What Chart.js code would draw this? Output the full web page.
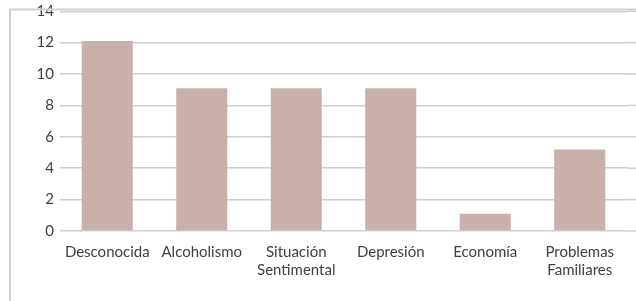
<!DOCTYPE html>
<html>
<head>
<meta charset="utf-8">
<script src="https://cdn.jsdelivr.net/npm/chart.js@4"></script>
<style>
  html, body { margin: 0; padding: 0; background: #fff; }
  #wrap { position: relative; width: 636px; height: 301px; }
</style>
</head>
<body>
<div id="wrap"><canvas id="chart" width="636" height="301"></canvas></div>
<script>
// ---------- Data ----------
const categories = ['Desconocida', 'Alcoholismo', ['Situación', 'Sentimental'], 'Depresión', 'Economía', ['Problemas', 'Familiares']];
const counts = [12.1, 9.1, 9.1, 9.1, 1.1, 5.2];
const yTicks = [0, 2, 4, 6, 8, 10, 12, 14];

const BAR = '#c9b0aa';
const GRID = '#cfcfcf';
const TEXT = '#3f3f3f';

// frame lines (left + top) and gridlines running to the page edge
const framePlugin = {
  id: 'frame',
  beforeDatasetsDraw(chart) {
    const { ctx, chartArea, scales } = chart;
    ctx.save();
    ctx.strokeStyle = GRID;
    ctx.lineWidth = 1.5;
    yTicks.forEach(v => {
      const y = scales.y.getPixelForValue(v);
      ctx.beginPath();
      ctx.moveTo(chartArea.right, y);
      ctx.lineTo(chart.width, y);
      ctx.stroke();
    });
    ctx.restore();
  },
  afterDraw(chart) {
    const { ctx } = chart;
    ctx.save();
    ctx.strokeStyle = '#d2d2d2';
    ctx.lineWidth = 2;
    ctx.beginPath();
    ctx.moveTo(10, chart.height);
    ctx.lineTo(10, 9.5);
    ctx.lineTo(chart.width, 9.5);
    ctx.stroke();
    ctx.restore();
  }
};

new Chart(document.getElementById('chart'), {
  type: 'bar',
  data: {
    labels: categories,
    datasets: [{
      data: counts,
      backgroundColor: BAR,
      borderWidth: 0,
      categoryPercentage: 1,
      barPercentage: 0.54
    }]
  },
  options: {
    responsive: false,
    animation: false,
    layout: { padding: { top: 0, right: 9, bottom: 10, left: 0 } },
    plugins: { legend: { display: false }, tooltip: { enabled: false } },
    scales: {
      x: {
        grid: { display: false, drawTicks: false },
        border: { display: false },
        ticks: {
          color: TEXT,
          font: { family: 'Lato', size: 15, lineHeight: 1.2 },
          maxRotation: 0,
          autoSkip: false,
          padding: 12
        }
      },
      y: {
        min: 0,
        max: 14,
        afterBuildTicks(scale) { scale.ticks = yTicks.map(v => ({ value: v })); },
        afterFit(scale) { scale.width = 60; },
        grid: { color: GRID, lineWidth: 1.5, drawTicks: false },
        border: { display: false },
        ticks: {
          color: TEXT,
          font: { family: 'Lato', size: 15, lineHeight: 0.7 },
          padding: 6
        }
      }
    }
  },
  plugins: [framePlugin]
});
</script>
</body>
</html>
